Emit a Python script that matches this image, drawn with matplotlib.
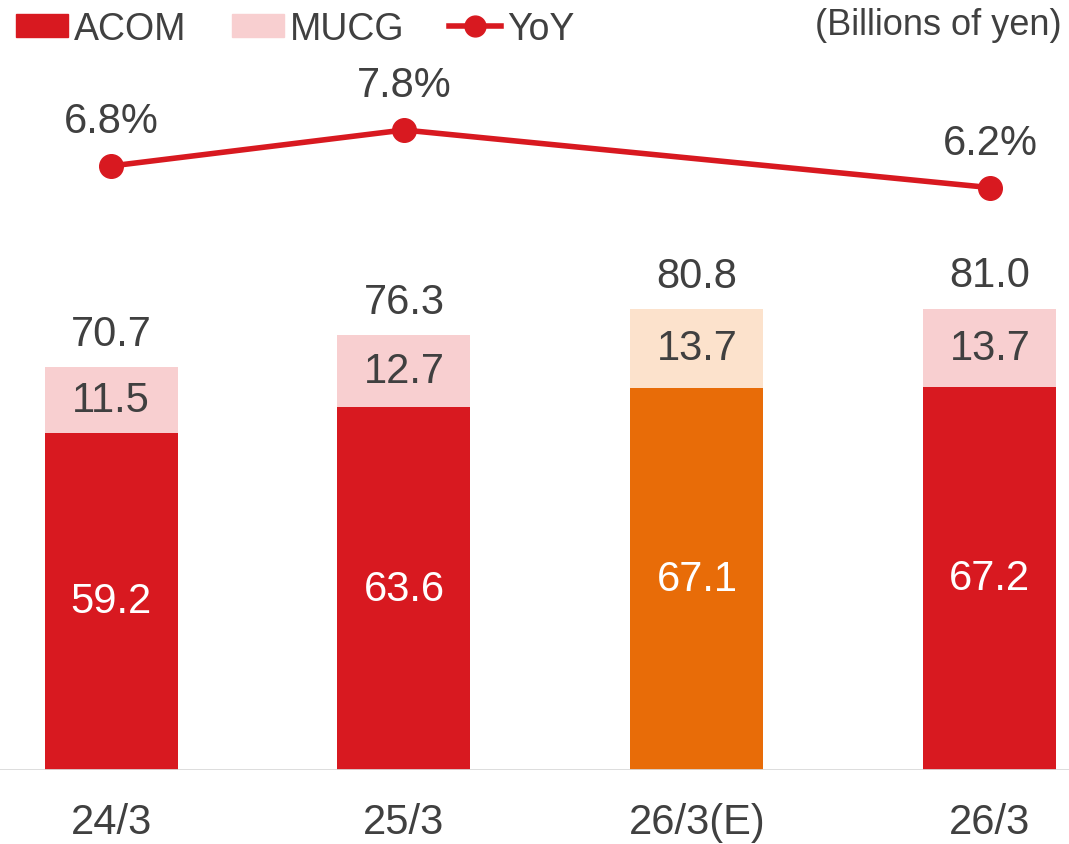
import matplotlib.pyplot as plt
from matplotlib.patches import Patch
from matplotlib.lines import Line2D

plt.rcParams['font.family'] = ['Liberation Sans', 'DejaVu Sans']

# data
periods = ['24/3', '25/3', '26/3(E)', '26/3']
acom = [59.2, 63.6, 67.1, 67.2]
mucg = [11.5, 12.7, 13.7, 13.7]
totals = [70.7, 76.3, 80.8, 81.0]
yoy_idx = [0, 1, 3]
yoy = [6.8, 7.8, 6.2]

red = '#D81920'
pink = '#F8CFD0'
orange = '#E86C08'
light_orange = '#FCE2CC'
grey = '#404040'

acom_colors = [red, red, orange, red]
mucg_colors = [pink, pink, light_orange, pink]

fig = plt.figure(figsize=(10.69, 8.45), dpi=100)
ax = fig.add_axes([0, 1 - 771 / 845, 1, 771 / 845])

x = list(range(len(periods)))
w = 0.454
ax.bar(x, acom, width=w, color=acom_colors, zorder=2)
ax.bar(x, mucg, width=w, bottom=acom, color=mucg_colors, zorder=2)

for i in x:
    ax.text(i, acom[i] / 2, f'{acom[i]:.1f}', ha='center', va='center',
            color='white', fontsize=30)
    ax.text(i, acom[i] + mucg[i] / 2, f'{mucg[i]:.1f}', ha='center', va='center',
            color=grey, fontsize=30)
    ax.text(i, totals[i] + 5.8, f'{totals[i]:.1f}', ha='center', va='center',
            color=grey, fontsize=30)

ax.set_xlim(-0.379, 3.27)
ax.set_ylim(0, 771 / 5.70)
ax.axhline(0, color='#D9D9D9', lw=2, zorder=3)
for s in ax.spines.values():
    s.set_visible(False)
ax.set_yticks([])
ax.set_xticks(x)
ax.set_xticklabels(periods, fontsize=30, color=grey)
ax.tick_params(axis='x', length=0, pad=23)

# YoY line on its own scale
ax2 = ax.twinx()
ax2.set_ylim(6.8 - (771 - 167) / 36, 6.8 + 167 / 36)
ax2.plot(yoy_idx, yoy, color=red, lw=4, marker='o', ms=17, zorder=4)
for i, v in zip(yoy_idx, yoy):
    ax2.text(i, v + 1.25, f'{v:.1f}%', ha='center', va='center', color=grey, fontsize=30)
ax2.set_yticks([])
for s in ax2.spines.values():
    s.set_visible(False)

handles = [Patch(color=red), Patch(color=pink),
           Line2D([], [], color=red, lw=4, marker='o', ms=15)]
fig.legend(handles, ['ACOM', 'MUCG', 'YoY'], loc='upper left', bbox_to_anchor=(0.001, 1.004),
           ncol=3, frameon=False, fontsize=27, handlelength=1.39, handleheight=0.58,
           handletextpad=0.16, columnspacing=1.2, labelcolor=grey, borderaxespad=0)
fig.text(0.993, 0.970, '(Billions of yen)', ha='right', va='center', fontsize=26, color=grey)

fig.savefig('out.png', dpi=100)
